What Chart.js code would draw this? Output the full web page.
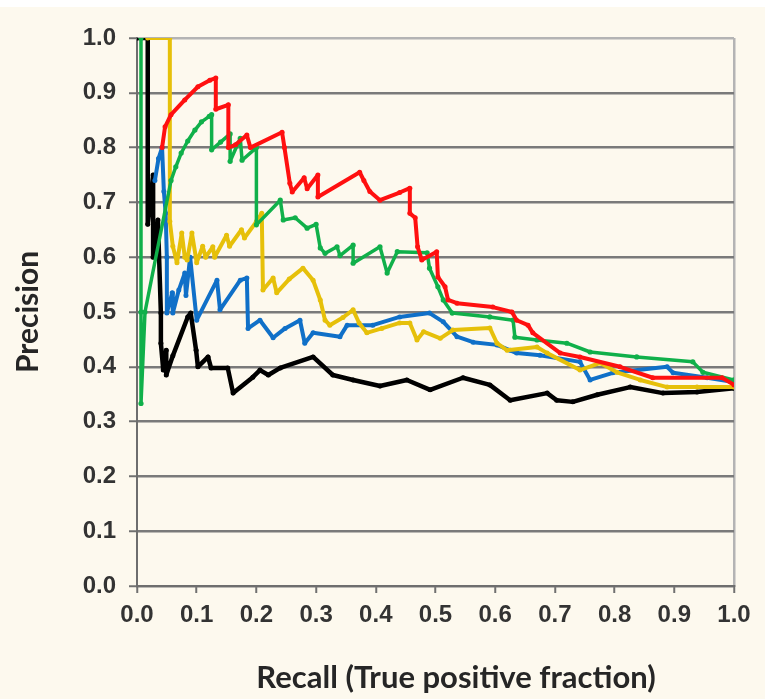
<!DOCTYPE html>
<html>
<head>
<meta charset="utf-8">
<script src="https://cdn.jsdelivr.net/npm/chart.js@4.4.1/dist/chart.umd.min.js"></script>
<style>
  html, body { margin: 0; padding: 0; background: #ffffff; }
  #wrap { width: 765px; height: 699px; }
</style>
</head>
<body>
<div id="wrap"><canvas id="c" width="765" height="699"></canvas></div>
<script>
// ---- Data ----
const tickValues = [0.0, 0.1, 0.2, 0.3, 0.4, 0.5, 0.6, 0.7, 0.8, 0.9, 1.0];
const xTitle = 'Recall (True positive fraction)';
const yTitle = 'Precision';

const redRecall    = [0.042,0.047,0.057,0.080,0.102,0.122,0.132,0.132,0.153,0.153,0.165,0.184,0.190,0.243,0.247,0.256,0.260,0.280,0.285,0.303,0.303,0.373,0.380,0.390,0.407,0.440,0.457,0.457,0.466,0.470,0.477,0.502,0.504,0.516,0.521,0.536,0.596,0.628,0.636,0.655,0.663,0.709,0.742,0.809,0.864,0.980,1.000];
const redPrecision = [0.800,0.838,0.860,0.887,0.911,0.923,0.927,0.870,0.878,0.800,0.805,0.823,0.800,0.828,0.800,0.735,0.719,0.745,0.725,0.750,0.710,0.755,0.740,0.720,0.704,0.718,0.726,0.680,0.672,0.619,0.595,0.610,0.564,0.546,0.522,0.516,0.509,0.500,0.485,0.476,0.462,0.425,0.418,0.400,0.380,0.380,0.367];

const greenRecall    = [0.0067,0.0067,0.0067,0.0134,0.057,0.065,0.074,0.085,0.097,0.108,0.121,0.125,0.125,0.140,0.156,0.156,0.173,0.176,0.200,0.200,0.240,0.245,0.265,0.285,0.300,0.307,0.315,0.335,0.340,0.362,0.362,0.407,0.419,0.436,0.486,0.490,0.504,0.513,0.528,0.591,0.630,0.633,0.670,0.720,0.759,0.837,0.931,0.948,1.000];
const greenPrecision = [1.000,0.500,0.333,0.500,0.740,0.765,0.790,0.812,0.832,0.847,0.857,0.860,0.796,0.810,0.825,0.775,0.817,0.777,0.800,0.659,0.704,0.668,0.672,0.653,0.660,0.617,0.607,0.619,0.603,0.622,0.589,0.619,0.571,0.610,0.608,0.580,0.546,0.522,0.498,0.491,0.485,0.454,0.449,0.443,0.427,0.418,0.409,0.390,0.376];

const yellowRecall    = [0.018,0.055,0.055,0.060,0.067,0.075,0.080,0.084,0.092,0.100,0.110,0.115,0.127,0.130,0.150,0.155,0.175,0.180,0.200,0.209,0.211,0.228,0.234,0.255,0.278,0.295,0.307,0.315,0.323,0.345,0.362,0.372,0.385,0.410,0.440,0.457,0.469,0.480,0.508,0.529,0.591,0.603,0.620,0.670,0.687,0.742,0.776,0.804,0.843,0.888,0.938,1.000];
const yellowPrecision = [1.000,1.000,0.665,0.620,0.590,0.644,0.600,0.595,0.644,0.590,0.620,0.600,0.619,0.600,0.640,0.620,0.650,0.635,0.665,0.680,0.540,0.562,0.535,0.560,0.580,0.558,0.522,0.485,0.476,0.490,0.504,0.480,0.462,0.470,0.480,0.480,0.449,0.464,0.452,0.467,0.471,0.443,0.430,0.436,0.425,0.394,0.407,0.390,0.376,0.363,0.363,0.363];

const blueRecall    = [0.030,0.036,0.042,0.045,0.048,0.050,0.050,0.059,0.060,0.070,0.080,0.082,0.089,0.100,0.134,0.139,0.173,0.184,0.186,0.206,0.228,0.248,0.273,0.281,0.295,0.340,0.352,0.395,0.440,0.490,0.513,0.536,0.563,0.603,0.625,0.636,0.675,0.742,0.759,0.797,0.888,0.898,0.955,1.000];
const bluePrecision = [0.740,0.780,0.800,0.720,0.680,0.600,0.498,0.535,0.498,0.540,0.571,0.530,0.600,0.485,0.558,0.504,0.558,0.562,0.470,0.485,0.453,0.470,0.485,0.443,0.462,0.455,0.476,0.476,0.491,0.498,0.482,0.455,0.445,0.440,0.430,0.425,0.421,0.409,0.376,0.389,0.400,0.389,0.380,0.372];

const blackRecall    = [0.000,0.018,0.018,0.024,0.027,0.027,0.035,0.040,0.040,0.044,0.049,0.049,0.060,0.085,0.090,0.099,0.102,0.119,0.124,0.152,0.161,0.194,0.206,0.220,0.240,0.295,0.328,0.362,0.407,0.452,0.491,0.546,0.591,0.625,0.687,0.703,0.730,0.771,0.826,0.881,0.938,1.000];
const blackPrecision = [1.000,1.000,0.660,0.720,0.750,0.600,0.668,0.498,0.443,0.394,0.430,0.385,0.420,0.491,0.498,0.430,0.400,0.418,0.398,0.398,0.352,0.381,0.394,0.385,0.398,0.418,0.385,0.376,0.365,0.376,0.358,0.380,0.367,0.339,0.352,0.339,0.336,0.349,0.363,0.352,0.354,0.361];

const seriesColors = { red: '#ff1010', green: '#10b04a', yellow: '#e6c00a', blue: '#1070c8', black: '#000000' };

// ---- Build datasets ----
function pts(xs, ys) { return xs.map((x, i) => ({ x: x, y: ys[i] })); }
function ds(label, xs, ys, color, order, bw, pr) {
  return {
    label: label, data: pts(xs, ys), showLine: true,
    borderColor: color, backgroundColor: color,
    pointBackgroundColor: color, pointBorderColor: color,
    borderWidth: bw, pointRadius: pr, pointBorderWidth: 0,
    tension: 0, order: order, fill: false,
    borderJoinStyle: 'round', borderCapStyle: 'round'
  };
}

const bgPlugin = {
  id: 'bg',
  beforeDraw(chart) {
    const ctx = chart.ctx;
    ctx.save();
    ctx.fillStyle = '#ffffff';
    ctx.fillRect(0, 0, chart.width, chart.height);
    ctx.fillStyle = '#fdf9ee';
    ctx.fillRect(0, 7, chart.width, chart.height - 7);
    ctx.restore();
  }
};

const xTitlePlugin = {
  id: 'xTitle',
  afterDraw(chart) {
    const ctx = chart.ctx;
    ctx.save();
    ctx.font = 'bold 31px Lato';
    ctx.fillStyle = '#262626';
    ctx.textAlign = 'center';
    ctx.textBaseline = 'middle';
    ctx.fillText(xTitle, 456, 678);
    ctx.restore();
  }
};

const tickFont = { family: '"Liberation Sans", Arial, sans-serif', size: 24, weight: 'bold' };

new Chart(document.getElementById('c'), {
  type: 'scatter',
  data: {
    datasets: [
      ds('Red', redRecall, redPrecision, seriesColors.red, 1, 4, 2.5),
      ds('Green', greenRecall, greenPrecision, seriesColors.green, 2, 3.5, 2.6),
      ds('Yellow', yellowRecall, yellowPrecision, seriesColors.yellow, 3, 4, 2.5),
      ds('Blue', blueRecall, bluePrecision, seriesColors.blue, 4, 4, 2.5),
      ds('Black', blackRecall, blackPrecision, seriesColors.black, 5, 4.5, 2.5)
    ]
  },
  options: {
    responsive: false,
    animation: false,
    layout: { padding: { top: 38, right: 31, left: 0, bottom: 0 } },
    plugins: { legend: { display: false }, tooltip: { enabled: false } },
    scales: {
      x: {
        type: 'linear', min: 0, max: 1,
        afterFit(scale) { scale.height = 113; },
        afterBuildTicks(scale) { scale.ticks = tickValues.map(v => ({ value: v })); },
        ticks: {
          font: tickFont, color: '#333333', padding: 8, maxRotation: 0, autoSkip: false,
          callback: (v) => Number(v).toFixed(1)
        },
        grid: {
          drawOnChartArea: true, drawTicks: true, tickLength: 7, lineWidth: 2.5,
          color: (c) => (c.tick && Math.abs(c.tick.value - 1) < 1e-9) ? '#b4b4b4' : 'rgba(0,0,0,0)',
          tickColor: '#707070', tickWidth: 2
        },
        border: { display: true, color: '#6e6e6e', width: 2 },
        title: { display: false }
      },
      y: {
        type: 'linear', min: 0, max: 1,
        afterFit(scale) { scale.width = 137; },
        afterBuildTicks(scale) { scale.ticks = tickValues.map(v => ({ value: v })); },
        ticks: {
          font: tickFont, color: '#333333', padding: 13, autoSkip: false,
          callback: (v) => Number(v).toFixed(1)
        },
        grid: {
          drawOnChartArea: true, drawTicks: true, tickLength: 8, lineWidth: 2.5,
          color: (c) => (c.tick && Math.abs(c.tick.value - 1) < 1e-9) ? '#b4b4b4' : '#7a7a7a',
          tickColor: '#707070', tickWidth: 2
        },
        border: { display: true, color: '#6e6e6e', width: 2 },
        title: {
          display: true, text: yTitle, color: '#262626',
          font: { family: 'Lato', size: 30, weight: 'bold', lineHeight: 1.0 },
          padding: { top: 13, bottom: 0 }
        }
      }
    }
  },
  plugins: [bgPlugin, xTitlePlugin]
});
</script>
</body>
</html>
